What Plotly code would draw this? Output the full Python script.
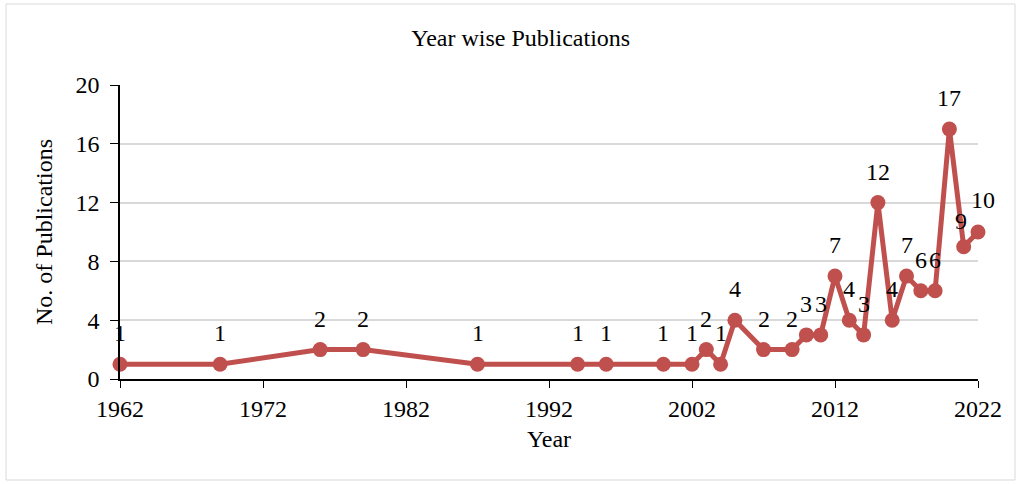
import plotly.graph_objects as go

years = [1962, 1969, 1976, 1979, 1987, 1994, 1996, 2000, 2002, 2003, 2004, 2005,
         2007, 2009, 2010, 2011, 2012, 2013, 2014, 2015, 2016, 2017, 2018, 2019,
         2020, 2021, 2022]
publications = [1, 1, 2, 2, 1, 1, 1, 1, 1, 2, 1, 4,
                 2, 2, 3, 3, 7, 4, 3, 12, 4, 7, 6, 6,
                 17, 9, 10]

x_ticks = [1962, 1972, 1982, 1992, 2002, 2012, 2022]
y_ticks = [0, 4, 8, 12, 16, 20]

RED = "#C0504D"
FONT = "Liberation Serif"
FS = 24

# small nudges so neighbouring value labels don't collide
label_nudge = {2021: (-3, 26), 2022: (5, 32)}

fig = go.Figure()
fig.add_trace(go.Scatter(
    x=years, y=publications, mode="lines+markers",
    line=dict(color=RED, width=5),
    marker=dict(color=RED, size=15),
    cliponaxis=False, hoverinfo="x+y", showlegend=False,
))

for yr, n in zip(years, publications):
    dx, dy = label_nudge.get(yr, (0, 31))
    fig.add_annotation(x=yr, y=n, text=str(n), showarrow=False,
                       xshift=dx, yshift=dy,
                       font=dict(family=FONT, size=FS, color="#000000"))

W, H = 1021, 484
L, R, T, B = 120, 43, 85, 105
pw, ph = W - L - R, H - T - B
# light grey frame around the whole chart
fig.add_shape(type="rect", xref="paper", yref="paper",
              x0=(6 - L) / pw, x1=(1015 - L) / pw,
              y0=(H - B - 480) / ph, y1=(H - B - 4) / ph,
              line=dict(color="#D9D9D9", width=1), fillcolor="rgba(0,0,0,0)",
              layer="below")

fig.update_layout(
    width=W, height=H,
    margin=dict(l=L, r=R, t=T, b=B),
    paper_bgcolor="white", plot_bgcolor="white",
    font=dict(family=FONT, size=FS, color="#000000"),
    title=dict(text="Year wise Publications", x=0.51, xref="container",
               y=1 - 38 / H, yref="container", yanchor="middle", xanchor="center",
               font=dict(family=FONT, size=FS, color="#000000")),
    xaxis=dict(range=[1962, 2022], tickvals=x_ticks, ticktext=[str(v) for v in x_ticks],
               showgrid=False, zeroline=False, showline=True, linecolor="#000000",
               linewidth=1.5, ticks="outside", ticklen=7, tickcolor="#000000",
               title=dict(text="Year", standoff=10, font=dict(size=FS))),
    yaxis=dict(range=[0, 20], tickvals=y_ticks, showgrid=True, gridcolor="#D9D9D9",
               gridwidth=1.5, zeroline=False, showline=True, linecolor="#000000",
               linewidth=1.5, ticks="outside", ticklen=8, tickcolor="#000000",
               ticklabelstandoff=6,
               title=dict(text="No. of Publications", standoff=16, font=dict(size=FS))),
)

fig.write_html("out.html")
